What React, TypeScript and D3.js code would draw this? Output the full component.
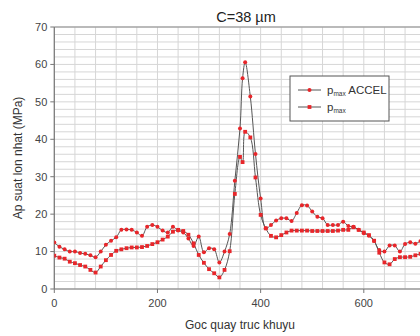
import React from "react";
import * as d3 from "d3";

const angles = [0,10,20,30,40,50,60,70,80,90,100,110,120,130,140,150,160,170,180,190,200,210,220,230,240,250,260,270,280,290,300,310,320,330,340,350,360,365,370,380,390,400,410,420,430,440,450,460,470,480,490,500,510,520,530,540,550,560,570,580,590,600,610,620,630,640,650,660,670,680,690,700,710,720];

const pmaxAccel = [12.4,11.3,10.6,10.0,10.0,9.6,9.4,9.0,8.5,10.0,11.8,12.9,13.8,15.8,15.9,15.8,15.1,14.2,16.6,17.1,16.6,15.6,15.1,16.6,15.6,15.1,13.5,11.5,14.0,9.8,10.9,10.6,7.1,10.0,14.7,28.9,42.9,56.3,60.6,51.4,36.1,24.2,16.2,17.1,18.3,18.9,18.9,18.2,20.3,22.4,22.3,20.7,19.3,18.9,17.1,17.1,17.1,18.0,16.8,16.6,15.8,14.9,14.2,12.8,10.4,10.0,11.6,11.6,10.0,12.0,12.5,12.1,12.8,13.0];

const pmax = [8.9,8.4,8.1,7.3,6.9,6.4,6.0,5.1,4.4,6.0,7.7,9.1,10.2,10.6,10.9,11.1,11.1,11.2,11.5,12.0,12.5,13.2,14.0,15.3,15.8,15.5,14.5,12.2,9.1,7.0,5.3,4.2,3.1,5.1,10.1,25.4,35.3,33.9,42.0,40.5,29.8,19.8,16.2,14.2,13.8,14.4,15.1,15.6,15.6,15.6,15.6,15.5,15.5,15.5,15.5,15.5,15.6,15.8,15.8,16.5,15.8,15.1,14.4,12.9,9.7,7.1,6.6,8.0,8.5,8.5,8.6,9.0,9.4,9.5];

const xTicks = [0, 200, 400, 600];
const yTicks = [0, 10, 20, 30, 40, 50, 60, 70];
const seriesNames = ["ACCEL", ""];

export default function App() {
  const W = 420, H = 336;
  const left = 54.3, right = 425.7, top = 27, bottom = 289;
  const x = d3.scaleLinear().domain([0, 720]).range([left, right]);
  const y = d3.scaleLinear().domain([0, 70]).range([bottom, top]);
  const font = "'Liberation Sans', Arial, sans-serif";
  const lineGen = (vals: number[]) =>
    d3.line<number>().x((_, i) => x(angles[i])).y((v) => y(v)).curve(d3.curveCatmullRom.alpha(0.5))(vals) || "";
  const vGrid = d3.range(0, 721, 40);
  const hGrid = d3.range(0, 71, 2);
  const red = "#e8262a";
  const lineCol = "#555";

  return (
    <svg width={W} height={H} style={{ position: "absolute", left: 0, top: 0, background: "#fff" }} fontFamily={font}>
      <defs>
        <clipPath id="plotclip">
          <rect x={left} y={top - 2} width={right - left} height={bottom - top + 4} />
        </clipPath>
      </defs>
      <rect x={0} y={0} width={W} height={H} fill="#fff" />
      {vGrid.map((g) => (
        <line key={"v" + g} x1={x(g)} x2={x(g)} y1={top} y2={bottom} stroke="#d6d6d6" strokeWidth={1} />
      ))}
      {hGrid.map((g) => (
        <line key={"h" + g} x1={left} x2={right} y1={y(g)} y2={y(g)} stroke="#d6d6d6" strokeWidth={1} />
      ))}
      <line x1={left} x2={right} y1={top} y2={top} stroke="#8a8a8a" strokeWidth={1.2} />
      <line x1={left} x2={left} y1={top} y2={bottom} stroke="#777" strokeWidth={1.2} />
      <line x1={left} x2={right} y1={bottom} y2={bottom} stroke="#777" strokeWidth={1.2} />
      {yTicks.map((t) => (
        <g key={"yt" + t}>
          <line x1={left - 4} x2={left} y1={y(t)} y2={y(t)} stroke="#777" />
          <text x={left - 7} y={y(t)} dy="0.35em" textAnchor="end" fontSize={11} fill="#444">{t}</text>
        </g>
      ))}
      {xTicks.map((t) => (
        <g key={"xt" + t}>
          <line x1={x(t)} x2={x(t)} y1={bottom} y2={bottom + 4} stroke="#777" />
          <text x={x(t)} y={bottom + 18} textAnchor="middle" fontSize={11} fill="#444">{t}</text>
        </g>
      ))}
      <g clipPath="url(#plotclip)">
        <path d={lineGen(pmax)} fill="none" stroke={lineCol} strokeWidth={1} />
        <path d={lineGen(pmaxAccel)} fill="none" stroke={lineCol} strokeWidth={1} />
        {pmax.map((v, i) => (
          <rect key={"b" + i} x={x(angles[i]) - 1.9} y={y(v) - 1.9} width={3.8} height={3.8} fill={red} />
        ))}
        {pmaxAccel.map((v, i) => (
          <circle key={"a" + i} cx={x(angles[i])} cy={y(v)} r={2} fill={red} />
        ))}
      </g>
      <text x={246} y={22} textAnchor="middle" fontSize={14.5} fill="#222">C=38 µm</text>
      <text x={240} y={329} textAnchor="middle" fontSize={12} fill="#333">Goc quay truc khuyu</text>
      <text transform={`translate(22,${(top + bottom) / 2}) rotate(-90)`} textAnchor="middle" fontSize={12} fill="#333">Ap suat lon nhat (MPa)</text>
      <g>
        <rect x={290} y={76} width={99} height={45} fill="#fff" stroke="#555" strokeWidth={1} />
        <line x1={298} x2={321} y1={90} y2={90} stroke={lineCol} />
        <circle cx={309.5} cy={90} r={2} fill={red} />
        <text x={327} y={94} fontSize={11.5} fill="#333">
          p<tspan fontSize={6.5} dy={2}>max</tspan><tspan dy={-2}> {seriesNames[0]}</tspan>
        </text>
        <line x1={298} x2={321} y1={107} y2={107} stroke={lineCol} />
        <rect x={307.6} y={105.1} width={3.8} height={3.8} fill={red} />
        <text x={327} y={111} fontSize={11.5} fill="#333">
          p<tspan fontSize={6.5} dy={2}>max</tspan>
        </text>
      </g>
    </svg>
  );
}
